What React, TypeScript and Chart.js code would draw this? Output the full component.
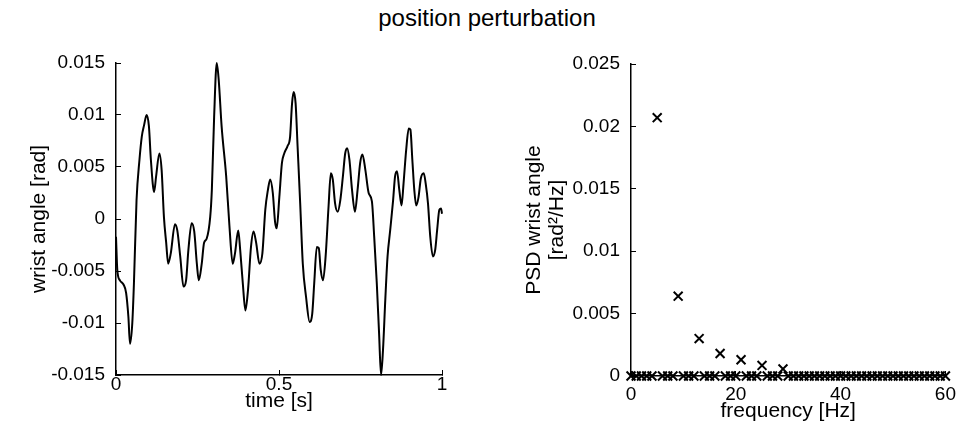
import React, { useEffect, useRef } from "react";
import { Chart, registerables } from "chart.js";

Chart.register(...registerables);

const FONT = "'Liberation Sans', Arial, Helvetica, sans-serif";

// ---- left panel: wrist angle time series ----
const timeS = [
  0.0, 0.004, 0.012, 0.023, 0.031, 0.038, 0.043, 0.05, 0.055, 0.063, 0.072, 0.079, 0.086, 0.094,
  0.101, 0.107, 0.117, 0.123, 0.133, 0.14, 0.147, 0.154, 0.16, 0.168, 0.181, 0.188, 0.197, 0.207,
  0.215, 0.222, 0.232, 0.24, 0.248, 0.254, 0.263, 0.27, 0.278, 0.289, 0.294, 0.301, 0.309, 0.315,
  0.324, 0.338, 0.348, 0.358, 0.365, 0.375, 0.381, 0.389, 0.397, 0.405, 0.414, 0.422, 0.43, 0.44,
  0.449, 0.458, 0.466, 0.473, 0.481, 0.488, 0.493, 0.501, 0.509, 0.516, 0.526, 0.534, 0.54, 0.545,
  0.551, 0.557, 0.565, 0.573, 0.583, 0.594, 0.602, 0.608, 0.616, 0.622, 0.628, 0.635, 0.643, 0.652,
  0.659, 0.665, 0.672, 0.68, 0.688, 0.696, 0.703, 0.709, 0.716, 0.724, 0.733, 0.741, 0.749, 0.756,
  0.765, 0.775, 0.785, 0.792, 0.8, 0.807, 0.813, 0.819, 0.826, 0.833, 0.841, 0.85, 0.856, 0.862,
  0.869, 0.876, 0.882, 0.89, 0.898, 0.903, 0.909, 0.915, 0.921, 0.928, 0.935, 0.944, 0.95, 0.957,
  0.964, 0.972, 0.979, 0.985, 0.992, 0.997, 1.0,
];
const wristAngle = [
  -0.0017, -0.0049, -0.0059, -0.0063, -0.0071, -0.0094, -0.012, -0.01, -0.0062, 0.0018, 0.0057,
  0.0079, 0.009, 0.01, 0.0089, 0.0057, 0.0026, 0.0041, 0.0063, 0.0047, 0.0002, -0.0023, -0.0043,
  -0.0033, -0.0005, -0.0011, -0.0036, -0.0065, -0.0059, -0.003, -0.0004, -0.0012, -0.0043, -0.0059,
  -0.0043, -0.0023, -0.0019, 0.0002, 0.0028, 0.0098, 0.015, 0.0134, 0.0089, 0.0041, -0.0007,
  -0.0043, -0.0033, -0.0011, -0.003, -0.0062, -0.0088, -0.0068, -0.0027, -0.0012, -0.0023, -0.0043,
  -0.0033, 0.0009, 0.0028, 0.0038, 0.0025, -0.0003, -0.0009, 0.0021, 0.0054, 0.0063, 0.007, 0.0079,
  0.0111, 0.0122, 0.0111, 0.007, 0.0015, -0.0043, -0.0075, -0.0099, -0.0091, -0.0062, -0.0027,
  -0.0028, -0.0049, -0.0059, -0.0036, 0.0012, 0.0044, 0.0038, 0.0015, 0.0007, 0.0018, 0.0041,
  0.0063, 0.0068, 0.0057, 0.0028, 0.0007, 0.0028, 0.0054, 0.0062, 0.0047, 0.0025, 0.0017, -0.0017,
  -0.0062, -0.011, -0.015, -0.0126, -0.0078, -0.0036, -0.0011, 0.0018, 0.0041, 0.0046, 0.0028,
  0.0013, 0.0034, 0.0066, 0.0087, 0.0086, 0.0057, 0.0028, 0.0013, 0.0021, 0.0039, 0.0044, 0.0034,
  0.0015, -0.0017, -0.0036, -0.003, -0.0011, 0.0009, 0.001, 0.0005,
];
const leftXTicks = [0, 0.5, 1];
const leftYTicks = [-0.015, -0.01, -0.005, 0, 0.005, 0.01, 0.015];

// ---- right panel: PSD ----
const psdFreq = [
  0, 1, 2, 3, 4, 5, 6, 7, 8, 9, 10, 11, 12, 13, 14, 15, 16, 17, 18, 19, 20, 21, 22, 23, 24, 25, 26,
  27, 28, 29, 30, 31, 32, 33, 34, 35, 36, 37, 38, 39, 40, 41, 42, 43, 44, 45, 46, 47, 48, 49, 50, 51,
  52, 53, 54, 55, 56, 57, 58, 59, 60,
];
const psdValue = [
  0, 0, 0, 0, 0, 0.0207, 0, 0, 0, 0.0064, 0, 0, 0, 0.003, 0, 0, 0, 0.0018, 0, 0, 0, 0.0013, 0, 0, 0,
  0.00085, 0, 0, 0, 0.00057, 0, 0, 0, 0, 0, 0, 0, 0, 0, 0, 0, 0, 0, 0, 0, 0, 0, 0, 0, 0, 0, 0, 0, 0,
  0, 0, 0, 0, 0, 0, 0,
];
const rightXTicks = [0, 20, 40, 60];
const rightYTicks = [0, 0.005, 0.01, 0.015, 0.02, 0.025];

const TITLE = "position perturbation";
const fmt = (v: number) => String(parseFloat(Number(v).toFixed(4)));

const TICK_FONT = 19;
const LABEL_FONT = 21;

function axisBase(ticksArr: number[], min: number, max: number, pad: number) {
  return {
    type: "linear" as const,
    min,
    max,
    afterBuildTicks: (s: any) => {
      s.ticks = ticksArr.map((v) => ({ value: v }));
    },
    border: { display: true, color: "#000", width: 1.5 },
    grid: { display: true, drawOnChartArea: false, drawTicks: true, tickLength: -5, color: "#000", lineWidth: 1 },
    ticks: {
      color: "#000",
      font: { family: FONT, size: TICK_FONT },
      padding: pad,
      autoSkip: false,
      maxRotation: 0,
      callback: (v: any) => fmt(v),
    },
  };
}

export default function App() {
  const leftRef = useRef<HTMLCanvasElement>(null);
  const rightRef = useRef<HTMLCanvasElement>(null);

  useEffect(() => {
    document.body.style.margin = "0";
    const left = new Chart(leftRef.current!, {
      type: "line",
      data: {
        datasets: [
          {
            data: timeS.map((t, i) => ({ x: t, y: wristAngle[i] })),
            borderColor: "#000",
            borderWidth: 2,
            pointRadius: 0,
            tension: 0.35,
            cubicInterpolationMode: "monotone",
            fill: false,
            clip: false as any,
          },
        ],
      },
      options: {
        animation: false,
        responsive: false,
        layout: { padding: { left: 0, top: 63, right: 42, bottom: 0 } },
        plugins: { legend: { display: false }, tooltip: { enabled: false }, title: { display: false } },
        scales: {
          x: {
            ...axisBase(leftXTicks, 0, 1, 3),
            position: "bottom",
            afterFit: (s: any) => {
              s.height = 65;
            },
            title: {
              display: true,
              text: "time [s]",
              color: "#000",
              font: { family: FONT, size: LABEL_FONT },
              padding: { top: 0, bottom: 26 },
            },
          },
          y: {
            ...axisBase(leftYTicks, -0.015, 0.015, 16),
            position: "left",
            afterFit: (s: any) => {
              s.width = 116;
            },
            title: {
              display: true,
              text: "wrist angle [rad]",
              color: "#000",
              font: { family: FONT, size: LABEL_FONT },
              padding: { top: 27, bottom: 0 },
            },
          },
        },
      } as any,
    });

    const right = new Chart(rightRef.current!, {
      type: "scatter",
      data: {
        datasets: [
          {
            data: psdFreq.map((f, i) => ({ x: f, y: psdValue[i] })),
            borderColor: "#000",
            backgroundColor: "#000",
            pointStyle: "crossRot",
            pointRadius: 6.3,
            borderWidth: 2,
            showLine: false,
            clip: false as any,
          },
        ],
      },
      options: {
        animation: false,
        responsive: false,
        layout: { padding: { left: 0, top: 64, right: 10, bottom: 0 } },
        plugins: { legend: { display: false }, tooltip: { enabled: false }, title: { display: false } },
        scales: {
          x: {
            ...axisBase(rightXTicks, 0, 60, 12),
            position: "bottom",
            afterFit: (s: any) => {
              s.height = 64;
            },
            title: {
              display: true,
              text: "frequency [Hz]",
              color: "#000",
              font: { family: FONT, size: LABEL_FONT },
              padding: { top: 0, bottom: 16 },
            },
          },
          y: {
            ...axisBase(rightYTicks, 0, 0.025, 16),
            position: "left",
            afterFit: (s: any) => {
              s.width = 147;
            },
            title: {
              display: true,
              text: ["PSD wrist angle", "[rad\u00B2/Hz]"],
              color: "#000",
              font: { family: FONT, size: LABEL_FONT, lineHeight: 1.1 },
              padding: { top: 39, bottom: 0 },
            },
          },
        },
      } as any,
    });

    return () => {
      left.destroy();
      right.destroy();
    };
  }, []);

  return (
    <div style={{ position: "relative", width: 968, height: 440, background: "#fff", overflow: "hidden" }}>
      <div
        style={{
          position: "absolute",
          top: 5,
          left: 0,
          width: 974,
          textAlign: "center",
          fontFamily: FONT,
          fontSize: 24,
          lineHeight: "26px",
          color: "#000",
        }}
      >
        {TITLE}
      </div>
      <canvas ref={leftRef} width={484} height={440} style={{ position: "absolute", left: 0, top: 0, width: 484, height: 440 }} />
      <canvas ref={rightRef} width={484} height={440} style={{ position: "absolute", left: 484, top: 0, width: 484, height: 440 }} />
    </div>
  );
}
